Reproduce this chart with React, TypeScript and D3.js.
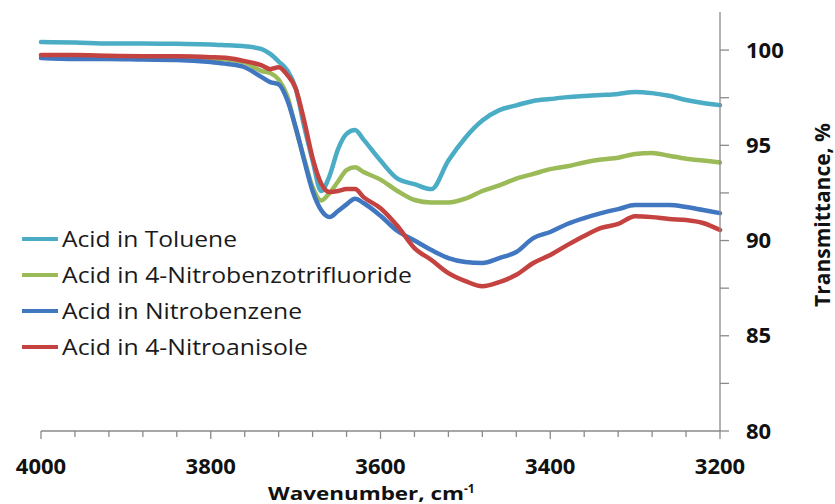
import React from "react";
import * as d3 from "d3";

const wavenumbers = [4000, 3960, 3920, 3880, 3840, 3800, 3780, 3760, 3740, 3730, 3720, 3710, 3700, 3690, 3680, 3670, 3660, 3650, 3640, 3630, 3620, 3600, 3580, 3560, 3540, 3520, 3500, 3480, 3460, 3440, 3420, 3400, 3380, 3360, 3340, 3320, 3300, 3280, 3260, 3240, 3220, 3200];

const toluene = [100.42, 100.4, 100.35, 100.35, 100.33, 100.3, 100.25, 100.2, 100.05, 99.8, 99.4, 98.95, 98.0, 96.0, 94.2, 92.6, 93.4, 94.8, 95.6, 95.8, 95.3, 94.2, 93.25, 92.96, 92.7, 94.2, 95.4, 96.3, 96.85, 97.1, 97.33, 97.43, 97.53, 97.59, 97.64, 97.7, 97.8, 97.74, 97.6, 97.38, 97.22, 97.11];
const nitrobenzotrifluoride = [99.7, 99.7, 99.68, 99.65, 99.6, 99.55, 99.5, 99.35, 98.9, 98.8, 98.45, 97.6, 95.9, 94.3, 92.8, 92.1, 92.5, 93.1, 93.7, 93.85, 93.6, 93.2, 92.6, 92.13, 92.0, 92.0, 92.2, 92.6, 92.9, 93.25, 93.5, 93.75, 93.9, 94.1, 94.25, 94.35, 94.55, 94.6, 94.45, 94.3, 94.2, 94.1];
const nitrobenzene = [99.58, 99.53, 99.53, 99.5, 99.48, 99.37, 99.27, 99.1, 98.58, 98.32, 98.2, 97.4, 95.96, 94.23, 92.6, 91.6, 91.23, 91.55, 91.9, 92.2, 91.97, 91.3, 90.5, 90.0, 89.5, 89.08, 88.87, 88.82, 89.08, 89.4, 90.13, 90.45, 90.87, 91.18, 91.44, 91.65, 91.86, 91.86, 91.86, 91.76, 91.6, 91.44];
const nitroanisole = [99.74, 99.74, 99.7, 99.68, 99.68, 99.63, 99.58, 99.42, 99.2, 99.0, 99.1, 98.7, 98.0, 96.3, 94.33, 93.0, 92.55, 92.6, 92.7, 92.7, 92.28, 91.7, 90.76, 89.6, 88.98, 88.29, 87.87, 87.6, 87.82, 88.2, 88.82, 89.24, 89.76, 90.24, 90.66, 90.87, 91.28, 91.23, 91.13, 91.08, 90.92, 90.55];

const seriesNames = ["Acid in Toluene", "Acid in 4-Nitrobenzotrifluoride", "Acid in Nitrobenzene", "Acid in 4-Nitroanisole"];
const seriesValues = [toluene, nitrobenzotrifluoride, nitrobenzene, nitroanisole];
const seriesColors = ["#4BACC6", "#9BBB59", "#4077C0", "#C4423F"];
const legendWidths = [175, 350, 240, 246];

const xTicks = d3.range(4000, 3199, -40);
const xLabels = [4000, 3800, 3600, 3400, 3200];
const yTicks = d3.range(80, 100.1, 2.5);
const yLabels = [80, 85, 90, 95, 100];

export default function App() {
  const W = 835, H = 504;
  const x = d3.scaleLinear().domain([4000, 3200]).range([41, 720]);
  const y = d3.scaleLinear().domain([80, 102]).range([431, 12]);
  const line = d3.line<[number, number]>()
    .x(d => x(d[0]))
    .y(d => y(d[1]))
    .curve(d3.curveMonotoneX);
  const axisColor = "#8a8a8a";
  const font = "'Open Sans', 'Liberation Sans', sans-serif";

  return (
    <svg width={W} height={H} style={{ position: "absolute", left: 0, top: 0, background: "#fff" }} fontFamily={font}>
      {seriesValues.map((vals, i) => (
        <path key={i}
          d={line(wavenumbers.map((w, j) => [w, vals[j]] as [number, number])) || ""}
          fill="none" stroke={seriesColors[i]} strokeWidth={4.5} strokeLinejoin="round" strokeLinecap="round" />
      ))}
      <line x1={x(4000)} x2={x(3200)} y1={y(80)} y2={y(80)} stroke={axisColor} strokeWidth={1.3} />
      {xTicks.map(t => (
        <line key={"xt" + t} x1={x(t)} x2={x(t)} y1={y(80)} y2={y(80) + (xLabels.includes(t) ? 8 : 6)} stroke={axisColor} strokeWidth={1.3} />
      ))}
      {xLabels.map(t => (
        <text key={"xl" + t} x={x(t)} y={474} textAnchor="middle" fontSize={22} fontWeight="bold" fill="#111">{t}</text>
      ))}
      <text x={268} y={500} fontSize={18} fontWeight="bold" fill="#111">
        <tspan textLength={196} lengthAdjust="spacingAndGlyphs">Wavenumber, cm</tspan><tspan dy={-7} fontSize={12}>-1</tspan>
      </text>
      <line x1={x(3200)} x2={x(3200)} y1={y(102)} y2={y(80)} stroke={axisColor} strokeWidth={1.3} />
      {yTicks.map(t => (
        <line key={"yt" + t} x1={x(3200)} x2={x(3200) + 9} y1={y(t)} y2={y(t)} stroke={axisColor} strokeWidth={1.3} />
      ))}
      {yLabels.map(t => (
        <text key={"yl" + t} x={746} y={y(t)} dy="0.35em" textAnchor="start" fontSize={22} fontWeight="bold" fill="#111">{t}</text>
      ))}
      <text transform="translate(830,215) rotate(-90)" textAnchor="middle" fontSize={21} fontWeight="bold" fill="#111">Transmittance, %</text>
      {seriesNames.map((n, i) => (
        <g key={"lg" + i} transform={`translate(0,${239 + i * 36})`}>
          <line x1={22} x2={58} y1={0} y2={0} stroke={seriesColors[i]} strokeWidth={4} />
          <text x={62} y={0} dy="0.36em" fontSize={22} fill="#1a1a1a" textLength={legendWidths[i]} lengthAdjust="spacingAndGlyphs">{n}</text>
        </g>
      ))}
    </svg>
  );
}
